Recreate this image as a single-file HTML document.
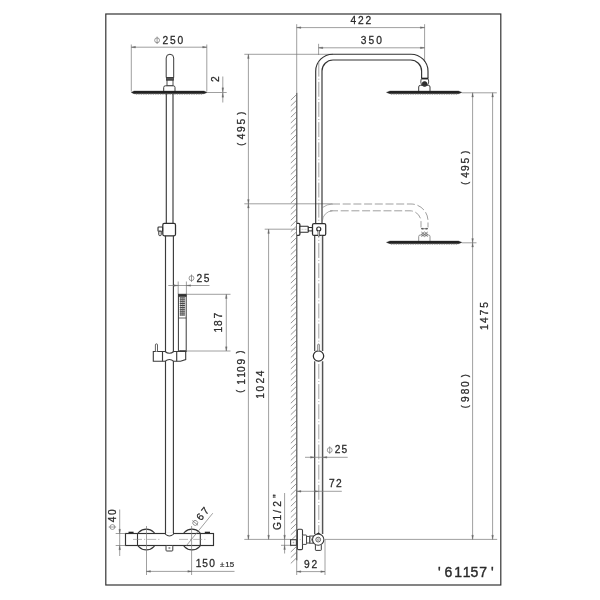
<!DOCTYPE html>
<html><head><meta charset="utf-8"><title>61157</title>
<style>
html,body{margin:0;padding:0;background:#fff;}
body{width:600px;height:600px;overflow:hidden;}
svg{display:block;}
text{font-family:"Liberation Sans",sans-serif;}
</style></head><body>
<svg width="600" height="600" viewBox="0 0 600 600">
<rect x="0" y="0" width="600" height="600" fill="#ffffff"/>
<g filter="url(#soft)">
<rect x="0" y="0" width="600" height="600" fill="#ffffff"/>
<defs><filter id="soft" x="0" y="0" width="100%" height="100%" filterUnits="objectBoundingBox"><feGaussianBlur stdDeviation="0.38"/></filter></defs>
<rect x="105.80" y="14.00" width="395.00" height="571.00" rx="0" stroke="#333" stroke-width="1.2" fill="none"/>
<line x1="131.30" y1="44.50" x2="131.30" y2="91.50" stroke="#7a7a7a" stroke-width="0.72" />
<line x1="206.80" y1="44.50" x2="206.80" y2="91.50" stroke="#7a7a7a" stroke-width="0.72" />
<line x1="131.30" y1="47.20" x2="206.80" y2="47.20" stroke="#7a7a7a" stroke-width="0.72" />
<polygon points="131.30,47.20 135.50,46.35 135.50,48.05" fill="#6a6a6a" stroke="#6a6a6a" stroke-width="0.3"/>
<polygon points="206.80,47.20 202.60,46.35 202.60,48.05" fill="#6a6a6a" stroke="#6a6a6a" stroke-width="0.3"/>
<g transform="translate(168.80,43.60) rotate(0.00)" fill="#2a2a2a" stroke="#2a2a2a" stroke-width="0.27"><title>&#8960;250</title>
<circle cx="-11.70" cy="-3.3" r="2.45" fill="none" stroke="#707070" stroke-width="0.7"/>
<line x1="-11.70" y1="-7.0" x2="-11.70" y2="0.4" stroke="#707070" stroke-width="0.7"/>
<text x="-6.29 1.22 8.71" y="0" font-size="10.2">250</text>
</g>
<line x1="206.80" y1="92.50" x2="226.70" y2="92.50" stroke="#7a7a7a" stroke-width="0.72" />
<line x1="222.80" y1="76.50" x2="222.80" y2="102.50" stroke="#7a7a7a" stroke-width="0.72" />
<polygon points="222.80,92.00 221.95,87.80 223.65,87.80" fill="#6a6a6a" stroke="#6a6a6a" stroke-width="0.3"/>
<polygon points="222.80,93.00 221.95,97.20 223.65,97.20" fill="#6a6a6a" stroke="#6a6a6a" stroke-width="0.3"/>
<g transform="translate(218.50,79.20) rotate(-90.00)" fill="#2a2a2a" stroke="#2a2a2a" stroke-width="0.27"><title>2</title>
<text x="-2.89" y="0" font-size="10.2">2</text>
</g>
<path d="M166.2,77.5 L166.2,58 A3.75,3.75 0 0 1 173.7,58 L173.7,77.5 Z" stroke="#3a3a3a" stroke-width="1.0" fill="#fff" />
<rect x="166.40" y="77.50" width="7.10" height="2.70" rx="0" stroke="#3a3a3a" stroke-width="0.8" fill="#555"/>
<rect x="167.00" y="80.20" width="6.00" height="5.60" rx="0" stroke="#3a3a3a" stroke-width="0.9" fill="#fff"/>
<path d="M163.7,91.3 L163.7,87.5 Q163.7,85.8 165.4,85.8 L173.3,85.8 Q175,85.8 175,87.5 L175,91.3" stroke="#3a3a3a" stroke-width="1.0" fill="#fff" />
<path d="M131.3,92.4 L134,91.1 L204,91.1 L207,92.4 L204,93.7 L134,93.7 Z" stroke="#222" stroke-width="0.4" fill="#222" />
<line x1="136.00" y1="94.00" x2="202.00" y2="94.00" stroke="#666" stroke-width="0.8" stroke-dasharray="1.2,1.2"/>
<line x1="166.30" y1="93.80" x2="166.30" y2="223.30" stroke="#3a3a3a" stroke-width="1.15" />
<line x1="173.00" y1="93.80" x2="173.00" y2="223.30" stroke="#3a3a3a" stroke-width="1.15" />
<rect x="162.80" y="223.40" width="12.70" height="12.40" rx="1.5" stroke="#2e2e2e" stroke-width="1.25" fill="#fff"/>
<rect x="158.00" y="227.00" width="4.60" height="4.20" rx="0.8" stroke="#2e2e2e" stroke-width="1.1" fill="#fff"/>
<rect x="158.80" y="231.20" width="2.40" height="4.40" rx="0.8" stroke="#2e2e2e" stroke-width="1.0" fill="#fff"/>
<line x1="165.50" y1="235.80" x2="165.50" y2="352.50" stroke="#3a3a3a" stroke-width="1.15" />
<line x1="173.40" y1="235.80" x2="173.40" y2="352.50" stroke="#3a3a3a" stroke-width="1.15" />
<line x1="165.50" y1="360.00" x2="165.50" y2="535.00" stroke="#3a3a3a" stroke-width="1.15" />
<line x1="173.40" y1="360.00" x2="173.40" y2="535.00" stroke="#3a3a3a" stroke-width="1.15" />
<g transform="translate(199.30,281.50) rotate(0.00)" fill="#2a2a2a" stroke="#2a2a2a" stroke-width="0.27"><title>&#8960;25</title>
<circle cx="-7.80" cy="-3.3" r="2.45" fill="none" stroke="#707070" stroke-width="0.7"/>
<line x1="-7.80" y1="-7.0" x2="-7.80" y2="0.4" stroke="#707070" stroke-width="0.7"/>
<text x="-2.89 4.52" y="0" font-size="10.2">25</text>
</g>
<line x1="168.30" y1="285.50" x2="209.50" y2="285.50" stroke="#7a7a7a" stroke-width="0.72" />
<line x1="178.20" y1="281.50" x2="178.20" y2="294.00" stroke="#7a7a7a" stroke-width="0.72" />
<line x1="186.40" y1="281.50" x2="186.40" y2="294.00" stroke="#7a7a7a" stroke-width="0.72" />
<polygon points="178.20,285.50 174.00,284.65 174.00,286.35" fill="#6a6a6a" stroke="#6a6a6a" stroke-width="0.3"/>
<polygon points="186.40,285.50 190.60,284.65 190.60,286.35" fill="#6a6a6a" stroke="#6a6a6a" stroke-width="0.3"/>
<rect x="178.40" y="294.30" width="7.80" height="57.20" rx="0" stroke="#3a3a3a" stroke-width="1.0" fill="#fff"/>
<rect x="178.40" y="294.30" width="7.80" height="2.30" rx="0" stroke="#3a3a3a" stroke-width="0.6" fill="#333"/>
<line x1="179.70" y1="297.90" x2="184.90" y2="297.90" stroke="#3a3a3a" stroke-width="1.05" />
<line x1="179.70" y1="299.80" x2="184.90" y2="299.80" stroke="#3a3a3a" stroke-width="1.05" />
<line x1="179.70" y1="301.70" x2="184.90" y2="301.70" stroke="#3a3a3a" stroke-width="1.05" />
<line x1="179.70" y1="303.60" x2="184.90" y2="303.60" stroke="#3a3a3a" stroke-width="1.05" />
<line x1="179.70" y1="305.50" x2="184.90" y2="305.50" stroke="#3a3a3a" stroke-width="1.05" />
<line x1="179.70" y1="307.40" x2="184.90" y2="307.40" stroke="#3a3a3a" stroke-width="1.05" />
<line x1="179.70" y1="309.30" x2="184.90" y2="309.30" stroke="#3a3a3a" stroke-width="1.05" />
<line x1="179.70" y1="311.20" x2="184.90" y2="311.20" stroke="#3a3a3a" stroke-width="1.05" />
<line x1="179.70" y1="313.10" x2="184.90" y2="313.10" stroke="#3a3a3a" stroke-width="1.05" />
<line x1="179.70" y1="315.00" x2="184.90" y2="315.00" stroke="#3a3a3a" stroke-width="1.05" />
<line x1="180.60" y1="297.30" x2="180.60" y2="315.60" stroke="#555" stroke-width="0.6" />
<line x1="182.30" y1="297.30" x2="182.30" y2="315.60" stroke="#555" stroke-width="0.6" />
<line x1="184.00" y1="297.30" x2="184.00" y2="315.60" stroke="#555" stroke-width="0.6" />
<line x1="178.40" y1="318.00" x2="186.20" y2="318.00" stroke="#3a3a3a" stroke-width="0.8" />
<path d="M179.3,350.5 L185.8,350.5 L185.6,352.4 L181.5,352.0 Z" stroke="#222" stroke-width="0.4" fill="#222" />
<line x1="186.40" y1="294.30" x2="230.50" y2="294.30" stroke="#7a7a7a" stroke-width="0.72" />
<line x1="186.40" y1="351.00" x2="230.50" y2="351.00" stroke="#7a7a7a" stroke-width="0.72" />
<line x1="226.30" y1="294.30" x2="226.30" y2="351.00" stroke="#7a7a7a" stroke-width="0.72" />
<polygon points="226.30,294.30 225.45,298.50 227.15,298.50" fill="#6a6a6a" stroke="#6a6a6a" stroke-width="0.3"/>
<polygon points="226.30,351.00 225.45,346.80 227.15,346.80" fill="#6a6a6a" stroke="#6a6a6a" stroke-width="0.3"/>
<g transform="translate(222.20,323.00) rotate(-90.00)" fill="#2a2a2a" stroke="#2a2a2a" stroke-width="0.27"><title>187</title>
<text x="-9.57 -2.89 4.40" y="0" font-size="10.2">187</text>
</g>
<path d="M153.3,351.5 L162.5,351.5 L165.0,351.5 Q169.4,355.0 173.8,351.5 L176.7,351.5 L185.7,351.5 L185.7,359.6 L180.5,361.3 L176.7,361.3 L173.8,361.3 Q169.4,357.6 165.0,361.3 L162.5,361.3 L153.3,361.3 Z" stroke="#3a3a3a" stroke-width="1.1" fill="#fff" />
<line x1="162.50" y1="351.50" x2="162.50" y2="361.30" stroke="#3a3a3a" stroke-width="1.15" />
<line x1="176.70" y1="351.50" x2="176.70" y2="361.30" stroke="#3a3a3a" stroke-width="1.15" />
<path d="M155.4,351.5 L155.4,344.9 A1.05,1.05 0 0 1 157.5,344.9 L157.5,351.5" stroke="#3a3a3a" stroke-width="0.8" fill="#fff" />
<circle cx="146.30" cy="539.50" r="10.40" stroke="#333" stroke-width="1.15" fill="#fff"/>
<circle cx="192.00" cy="539.50" r="10.40" stroke="#333" stroke-width="1.15" fill="#fff"/>
<rect x="125.50" y="533.50" width="88.00" height="12.00" rx="0" stroke="#333" stroke-width="1.15" fill="#fff"/>
<line x1="137.50" y1="533.50" x2="137.50" y2="545.50" stroke="#333" stroke-width="1.1" />
<line x1="200.30" y1="533.50" x2="200.30" y2="545.50" stroke="#333" stroke-width="1.1" />
<line x1="128.50" y1="532.40" x2="133.60" y2="532.40" stroke="#222" stroke-width="1.4" />
<line x1="204.80" y1="532.40" x2="210.00" y2="532.40" stroke="#222" stroke-width="1.4" />
<path d="M165.5,533.0 L165.5,534.2 Q169.4,537.8 173.4,534.2 L173.4,533.0" stroke="#3a3a3a" stroke-width="1.1" fill="#fff" />
<line x1="166.10" y1="533.50" x2="172.80" y2="533.50" stroke="#fff" stroke-width="1.6" />
<rect x="166.00" y="545.50" width="6.80" height="5.50" rx="0.8" stroke="#3a3a3a" stroke-width="1.0" fill="#fff"/>
<rect x="168.80" y="547.60" width="1.20" height="1.20" rx="0" stroke="#888" stroke-width="0.5" fill="none"/>
<line x1="133.00" y1="539.40" x2="160.00" y2="539.40" stroke="#888" stroke-width="0.6" stroke-dasharray="9,2,1.2,2"/>
<line x1="179.00" y1="539.40" x2="205.50" y2="539.40" stroke="#888" stroke-width="0.6" stroke-dasharray="9,2,1.2,2"/>
<line x1="146.50" y1="526.00" x2="146.50" y2="575.00" stroke="#7a7a7a" stroke-width="0.72" />
<line x1="191.60" y1="526.00" x2="191.60" y2="575.00" stroke="#7a7a7a" stroke-width="0.72" />
<line x1="115.70" y1="533.50" x2="125.50" y2="533.50" stroke="#7a7a7a" stroke-width="0.72" />
<line x1="115.70" y1="545.50" x2="125.50" y2="545.50" stroke="#7a7a7a" stroke-width="0.72" />
<line x1="119.70" y1="509.50" x2="119.70" y2="556.00" stroke="#7a7a7a" stroke-width="0.72" />
<polygon points="119.70,533.50 118.85,529.30 120.55,529.30" fill="#6a6a6a" stroke="#6a6a6a" stroke-width="0.3"/>
<polygon points="119.70,545.50 118.85,549.70 120.55,549.70" fill="#6a6a6a" stroke="#6a6a6a" stroke-width="0.3"/>
<g transform="translate(115.70,519.50) rotate(-90.00)" fill="#2a2a2a" stroke="#2a2a2a" stroke-width="0.27"><title>&#8960;40</title>
<circle cx="-7.50" cy="-3.3" r="2.45" fill="none" stroke="#707070" stroke-width="0.7"/>
<line x1="-7.50" y1="-7.0" x2="-7.50" y2="0.4" stroke="#707070" stroke-width="0.7"/>
<text x="-2.86 4.61" y="0" font-size="10.2">40</text>
</g>
<line x1="186.50" y1="545.50" x2="212.80" y2="513.20" stroke="#7a7a7a" stroke-width="0.72" />
<g transform="translate(202.90,518.90) rotate(-50.00)" fill="#2a2a2a" stroke="#2a2a2a" stroke-width="0.27"><title>&#8960;67</title>
<circle cx="-8.00" cy="-3.3" r="2.45" fill="none" stroke="#707070" stroke-width="0.7"/>
<line x1="-8.00" y1="-7.0" x2="-8.00" y2="0.4" stroke="#707070" stroke-width="0.7"/>
<text x="-2.93 4.70" y="0" font-size="10.2">67</text>
</g>
<line x1="146.30" y1="571.40" x2="234.50" y2="571.40" stroke="#7a7a7a" stroke-width="0.72" />
<polygon points="146.30,571.40 150.50,570.55 150.50,572.25" fill="#6a6a6a" stroke="#6a6a6a" stroke-width="0.3"/>
<polygon points="192.00,571.40 187.80,570.55 187.80,572.25" fill="#6a6a6a" stroke="#6a6a6a" stroke-width="0.3"/>
<g transform="translate(205.00,567.00) rotate(0.00)" fill="#2a2a2a" stroke="#2a2a2a" stroke-width="0.27"><title>150</title>
<text x="-9.32 -2.88 4.16" y="0" font-size="10.2">150</text>
</g>
<g transform="translate(227.00,566.80) rotate(0.00)" fill="#2a2a2a" stroke="#2a2a2a" stroke-width="0.2"><title>&#177;15</title>
<text x="-7.04 -1.74 2.64" y="0" font-size="7.9">±15</text>
</g>
<line x1="244.30" y1="54.30" x2="333.00" y2="54.30" stroke="#7a7a7a" stroke-width="0.72" />
<line x1="248.40" y1="54.30" x2="248.40" y2="539.40" stroke="#7a7a7a" stroke-width="0.72" />
<polygon points="248.40,54.30 247.55,58.50 249.25,58.50" fill="#6a6a6a" stroke="#6a6a6a" stroke-width="0.3"/>
<line x1="244.30" y1="203.80" x2="332.00" y2="203.80" stroke="#7a7a7a" stroke-width="0.72" />
<polygon points="248.40,203.80 247.55,199.60 249.25,199.60" fill="#6a6a6a" stroke="#6a6a6a" stroke-width="0.3"/>
<polygon points="248.40,203.80 247.55,208.00 249.25,208.00" fill="#6a6a6a" stroke="#6a6a6a" stroke-width="0.3"/>
<polygon points="248.40,539.40 247.55,535.20 249.25,535.20" fill="#6a6a6a" stroke="#6a6a6a" stroke-width="0.3"/>
<g transform="translate(244.80,129.00) rotate(-90.00)" fill="#2a2a2a" stroke="#2a2a2a" stroke-width="0.27"><title>(495)</title>
<text x="-16.78" y="-1.15" font-size="9">(</text>
<text x="-10.36 -2.89 4.62" y="0" font-size="10.2">495</text>
<text x="14.23" y="-1.15" font-size="9">)</text>
</g>
<g transform="translate(244.60,371.80) rotate(-90.00)" fill="#2a2a2a" stroke="#2a2a2a" stroke-width="0.27"><title>(1109)</title>
<text x="-20.98" y="-1.15" font-size="9">(</text>
<text x="-12.97 -5.97 -0.09 7.41" y="0" font-size="10.2">1109</text>
<text x="18.33" y="-1.15" font-size="9">)</text>
</g>
<line x1="264.70" y1="229.20" x2="296.70" y2="229.20" stroke="#7a7a7a" stroke-width="0.72" />
<line x1="268.60" y1="229.20" x2="268.60" y2="539.40" stroke="#7a7a7a" stroke-width="0.72" />
<polygon points="268.60,229.20 267.75,233.40 269.45,233.40" fill="#6a6a6a" stroke="#6a6a6a" stroke-width="0.3"/>
<polygon points="268.60,539.40 267.75,535.20 269.45,535.20" fill="#6a6a6a" stroke="#6a6a6a" stroke-width="0.3"/>
<g transform="translate(264.40,384.80) rotate(-90.00)" fill="#2a2a2a" stroke="#2a2a2a" stroke-width="0.27"><title>1024</title>
<text x="-13.97 -6.59 1.41 8.44" y="0" font-size="10.2">1024</text>
</g>
<line x1="244.30" y1="539.40" x2="290.50" y2="539.40" stroke="#7a7a7a" stroke-width="0.72" />
<line x1="284.60" y1="493.00" x2="284.60" y2="553.50" stroke="#7a7a7a" stroke-width="0.72" />
<line x1="281.00" y1="545.30" x2="291.00" y2="545.30" stroke="#7a7a7a" stroke-width="0.72" />
<polygon points="284.60,539.40 283.75,535.20 285.45,535.20" fill="#6a6a6a" stroke="#6a6a6a" stroke-width="0.3"/>
<polygon points="284.60,545.30 283.75,549.50 285.45,549.50" fill="#6a6a6a" stroke="#6a6a6a" stroke-width="0.3"/>
<g transform="translate(280.60,511.25) rotate(-90.00)" fill="#2a2a2a" stroke="#2a2a2a" stroke-width="0.27"><title>G1/2&quot;</title>
<text x="-18.67 -9.32 -1.44 4.61 13.2" y="0" font-size="10.2">G1/2"</text>
</g>
<line x1="296.70" y1="24.20" x2="296.70" y2="92.70" stroke="#7a7a7a" stroke-width="0.72" />
<line x1="424.60" y1="24.20" x2="424.60" y2="62.00" stroke="#7a7a7a" stroke-width="0.72" />
<line x1="296.70" y1="27.60" x2="424.60" y2="27.60" stroke="#7a7a7a" stroke-width="0.72" />
<polygon points="296.70,27.60 300.90,26.75 300.90,28.45" fill="#6a6a6a" stroke="#6a6a6a" stroke-width="0.3"/>
<polygon points="424.60,27.60 420.40,26.75 420.40,28.45" fill="#6a6a6a" stroke="#6a6a6a" stroke-width="0.3"/>
<g transform="translate(360.80,23.50) rotate(0.00)" fill="#2a2a2a" stroke="#2a2a2a" stroke-width="0.27"><title>422</title>
<text x="-10.41 -2.89 4.66" y="0" font-size="10.2">422</text>
</g>
<line x1="318.60" y1="43.80" x2="318.60" y2="55.00" stroke="#7a7a7a" stroke-width="0.72" />
<line x1="318.60" y1="47.80" x2="424.60" y2="47.80" stroke="#7a7a7a" stroke-width="0.72" />
<polygon points="318.60,47.80 322.80,46.95 322.80,48.65" fill="#6a6a6a" stroke="#6a6a6a" stroke-width="0.3"/>
<polygon points="424.60,47.80 420.40,46.95 420.40,48.65" fill="#6a6a6a" stroke="#6a6a6a" stroke-width="0.3"/>
<g transform="translate(371.40,43.50) rotate(0.00)" fill="#2a2a2a" stroke="#2a2a2a" stroke-width="0.27"><title>350</title>
<text x="-10.56 -2.88 4.81" y="0" font-size="10.2">350</text>
</g>
<line x1="296.80" y1="92.70" x2="296.80" y2="560.50" stroke="#444" stroke-width="1.1" />
<line x1="296.70" y1="560.50" x2="296.70" y2="575.00" stroke="#7a7a7a" stroke-width="0.72" />
<line x1="290.80" y1="100.10" x2="296.60" y2="94.50" stroke="#6c6c6c" stroke-width="0.7" />
<line x1="290.80" y1="105.82" x2="296.60" y2="100.22" stroke="#6c6c6c" stroke-width="0.7" />
<line x1="290.80" y1="111.54" x2="296.60" y2="105.94" stroke="#6c6c6c" stroke-width="0.7" />
<line x1="290.80" y1="117.26" x2="296.60" y2="111.66" stroke="#6c6c6c" stroke-width="0.7" />
<line x1="290.80" y1="122.98" x2="296.60" y2="117.38" stroke="#6c6c6c" stroke-width="0.7" />
<line x1="290.80" y1="128.70" x2="296.60" y2="123.10" stroke="#6c6c6c" stroke-width="0.7" />
<line x1="290.80" y1="134.42" x2="296.60" y2="128.82" stroke="#6c6c6c" stroke-width="0.7" />
<line x1="290.80" y1="140.14" x2="296.60" y2="134.54" stroke="#6c6c6c" stroke-width="0.7" />
<line x1="290.80" y1="145.86" x2="296.60" y2="140.26" stroke="#6c6c6c" stroke-width="0.7" />
<line x1="290.80" y1="151.58" x2="296.60" y2="145.98" stroke="#6c6c6c" stroke-width="0.7" />
<line x1="290.80" y1="157.30" x2="296.60" y2="151.70" stroke="#6c6c6c" stroke-width="0.7" />
<line x1="290.80" y1="163.02" x2="296.60" y2="157.42" stroke="#6c6c6c" stroke-width="0.7" />
<line x1="290.80" y1="168.74" x2="296.60" y2="163.14" stroke="#6c6c6c" stroke-width="0.7" />
<line x1="290.80" y1="174.46" x2="296.60" y2="168.86" stroke="#6c6c6c" stroke-width="0.7" />
<line x1="290.80" y1="180.18" x2="296.60" y2="174.58" stroke="#6c6c6c" stroke-width="0.7" />
<line x1="290.80" y1="185.90" x2="296.60" y2="180.30" stroke="#6c6c6c" stroke-width="0.7" />
<line x1="290.80" y1="191.62" x2="296.60" y2="186.02" stroke="#6c6c6c" stroke-width="0.7" />
<line x1="290.80" y1="197.34" x2="296.60" y2="191.74" stroke="#6c6c6c" stroke-width="0.7" />
<line x1="290.80" y1="203.06" x2="296.60" y2="197.46" stroke="#6c6c6c" stroke-width="0.7" />
<line x1="290.80" y1="208.78" x2="296.60" y2="203.18" stroke="#6c6c6c" stroke-width="0.7" />
<line x1="290.80" y1="214.50" x2="296.60" y2="208.90" stroke="#6c6c6c" stroke-width="0.7" />
<line x1="290.80" y1="220.22" x2="296.60" y2="214.62" stroke="#6c6c6c" stroke-width="0.7" />
<line x1="290.80" y1="225.94" x2="296.60" y2="220.34" stroke="#6c6c6c" stroke-width="0.7" />
<line x1="290.80" y1="231.66" x2="296.60" y2="226.06" stroke="#6c6c6c" stroke-width="0.7" />
<line x1="290.80" y1="237.38" x2="296.60" y2="231.78" stroke="#6c6c6c" stroke-width="0.7" />
<line x1="290.80" y1="243.10" x2="296.60" y2="237.50" stroke="#6c6c6c" stroke-width="0.7" />
<line x1="290.80" y1="248.82" x2="296.60" y2="243.22" stroke="#6c6c6c" stroke-width="0.7" />
<line x1="290.80" y1="254.54" x2="296.60" y2="248.94" stroke="#6c6c6c" stroke-width="0.7" />
<line x1="290.80" y1="260.26" x2="296.60" y2="254.66" stroke="#6c6c6c" stroke-width="0.7" />
<line x1="290.80" y1="265.98" x2="296.60" y2="260.38" stroke="#6c6c6c" stroke-width="0.7" />
<line x1="290.80" y1="271.70" x2="296.60" y2="266.10" stroke="#6c6c6c" stroke-width="0.7" />
<line x1="290.80" y1="277.42" x2="296.60" y2="271.82" stroke="#6c6c6c" stroke-width="0.7" />
<line x1="290.80" y1="283.14" x2="296.60" y2="277.54" stroke="#6c6c6c" stroke-width="0.7" />
<line x1="290.80" y1="288.86" x2="296.60" y2="283.26" stroke="#6c6c6c" stroke-width="0.7" />
<line x1="290.80" y1="294.58" x2="296.60" y2="288.98" stroke="#6c6c6c" stroke-width="0.7" />
<line x1="290.80" y1="300.30" x2="296.60" y2="294.70" stroke="#6c6c6c" stroke-width="0.7" />
<line x1="290.80" y1="306.02" x2="296.60" y2="300.42" stroke="#6c6c6c" stroke-width="0.7" />
<line x1="290.80" y1="311.74" x2="296.60" y2="306.14" stroke="#6c6c6c" stroke-width="0.7" />
<line x1="290.80" y1="317.46" x2="296.60" y2="311.86" stroke="#6c6c6c" stroke-width="0.7" />
<line x1="290.80" y1="323.18" x2="296.60" y2="317.58" stroke="#6c6c6c" stroke-width="0.7" />
<line x1="290.80" y1="328.90" x2="296.60" y2="323.30" stroke="#6c6c6c" stroke-width="0.7" />
<line x1="290.80" y1="334.62" x2="296.60" y2="329.02" stroke="#6c6c6c" stroke-width="0.7" />
<line x1="290.80" y1="340.34" x2="296.60" y2="334.74" stroke="#6c6c6c" stroke-width="0.7" />
<line x1="290.80" y1="346.06" x2="296.60" y2="340.46" stroke="#6c6c6c" stroke-width="0.7" />
<line x1="290.80" y1="351.78" x2="296.60" y2="346.18" stroke="#6c6c6c" stroke-width="0.7" />
<line x1="290.80" y1="357.50" x2="296.60" y2="351.90" stroke="#6c6c6c" stroke-width="0.7" />
<line x1="290.80" y1="363.22" x2="296.60" y2="357.62" stroke="#6c6c6c" stroke-width="0.7" />
<line x1="290.80" y1="368.94" x2="296.60" y2="363.34" stroke="#6c6c6c" stroke-width="0.7" />
<line x1="290.80" y1="374.66" x2="296.60" y2="369.06" stroke="#6c6c6c" stroke-width="0.7" />
<line x1="290.80" y1="380.38" x2="296.60" y2="374.78" stroke="#6c6c6c" stroke-width="0.7" />
<line x1="290.80" y1="386.10" x2="296.60" y2="380.50" stroke="#6c6c6c" stroke-width="0.7" />
<line x1="290.80" y1="391.82" x2="296.60" y2="386.22" stroke="#6c6c6c" stroke-width="0.7" />
<line x1="290.80" y1="397.54" x2="296.60" y2="391.94" stroke="#6c6c6c" stroke-width="0.7" />
<line x1="290.80" y1="403.26" x2="296.60" y2="397.66" stroke="#6c6c6c" stroke-width="0.7" />
<line x1="290.80" y1="408.98" x2="296.60" y2="403.38" stroke="#6c6c6c" stroke-width="0.7" />
<line x1="290.80" y1="414.70" x2="296.60" y2="409.10" stroke="#6c6c6c" stroke-width="0.7" />
<line x1="290.80" y1="420.42" x2="296.60" y2="414.82" stroke="#6c6c6c" stroke-width="0.7" />
<line x1="290.80" y1="426.14" x2="296.60" y2="420.54" stroke="#6c6c6c" stroke-width="0.7" />
<line x1="290.80" y1="431.86" x2="296.60" y2="426.26" stroke="#6c6c6c" stroke-width="0.7" />
<line x1="290.80" y1="437.58" x2="296.60" y2="431.98" stroke="#6c6c6c" stroke-width="0.7" />
<line x1="290.80" y1="443.30" x2="296.60" y2="437.70" stroke="#6c6c6c" stroke-width="0.7" />
<line x1="290.80" y1="449.02" x2="296.60" y2="443.42" stroke="#6c6c6c" stroke-width="0.7" />
<line x1="290.80" y1="454.74" x2="296.60" y2="449.14" stroke="#6c6c6c" stroke-width="0.7" />
<line x1="290.80" y1="460.46" x2="296.60" y2="454.86" stroke="#6c6c6c" stroke-width="0.7" />
<line x1="290.80" y1="466.18" x2="296.60" y2="460.58" stroke="#6c6c6c" stroke-width="0.7" />
<line x1="290.80" y1="471.90" x2="296.60" y2="466.30" stroke="#6c6c6c" stroke-width="0.7" />
<line x1="290.80" y1="477.62" x2="296.60" y2="472.02" stroke="#6c6c6c" stroke-width="0.7" />
<line x1="290.80" y1="483.34" x2="296.60" y2="477.74" stroke="#6c6c6c" stroke-width="0.7" />
<line x1="290.80" y1="489.06" x2="296.60" y2="483.46" stroke="#6c6c6c" stroke-width="0.7" />
<line x1="290.80" y1="494.78" x2="296.60" y2="489.18" stroke="#6c6c6c" stroke-width="0.7" />
<line x1="290.80" y1="500.50" x2="296.60" y2="494.90" stroke="#6c6c6c" stroke-width="0.7" />
<line x1="290.80" y1="506.22" x2="296.60" y2="500.62" stroke="#6c6c6c" stroke-width="0.7" />
<line x1="290.80" y1="511.94" x2="296.60" y2="506.34" stroke="#6c6c6c" stroke-width="0.7" />
<line x1="290.80" y1="517.66" x2="296.60" y2="512.06" stroke="#6c6c6c" stroke-width="0.7" />
<line x1="290.80" y1="523.38" x2="296.60" y2="517.78" stroke="#6c6c6c" stroke-width="0.7" />
<line x1="290.80" y1="529.10" x2="296.60" y2="523.50" stroke="#6c6c6c" stroke-width="0.7" />
<line x1="290.80" y1="534.82" x2="296.60" y2="529.22" stroke="#6c6c6c" stroke-width="0.7" />
<line x1="290.80" y1="540.54" x2="296.60" y2="534.94" stroke="#6c6c6c" stroke-width="0.7" />
<line x1="290.80" y1="546.26" x2="296.60" y2="540.66" stroke="#6c6c6c" stroke-width="0.7" />
<line x1="290.80" y1="551.98" x2="296.60" y2="546.38" stroke="#6c6c6c" stroke-width="0.7" />
<line x1="290.80" y1="557.70" x2="296.60" y2="552.10" stroke="#6c6c6c" stroke-width="0.7" />
<line x1="290.80" y1="563.42" x2="296.60" y2="557.82" stroke="#6c6c6c" stroke-width="0.7" />
<path d="M315.7,223.4 L315.7,71.2 A17,17 0 0 1 332.7,54.2 L411.0,54.2 A17,17 0 0 1 428.0,71.2 L428.0,78.0" stroke="#333" stroke-width="1.15" fill="none" />
<path d="M322.0,223.4 L322.0,71.0 A11,11 0 0 1 333.0,60.0 L410.6,60.0 A11,11 0 0 1 421.6,71.0 L421.6,78.0" stroke="#333" stroke-width="1.15" fill="none" />
<line x1="318.80" y1="61.70" x2="318.80" y2="533.00" stroke="#8a8a8a" stroke-width="0.8" stroke-dasharray="14.9,2.1,1,2.15"/>
<rect x="421.30" y="77.90" width="6.90" height="1.30" rx="0" stroke="#222" stroke-width="0.3" fill="#222"/>
<path d="M421.1,79.2 L420.8,82.0 Q421.0,84.2 422.3,85.3 M428.4,79.2 L428.7,82.0 Q428.5,84.2 427.2,85.3" stroke="#3a3a3a" stroke-width="0.9" fill="none" />
<circle cx="424.60" cy="84.00" r="2.50" stroke="#222" stroke-width="0.6" fill="#2e2e2e"/>
<path d="M418.7,91.4 L418.7,87.0 Q418.7,85.3 420.4,85.3 L428.3,85.3 Q430,85.3 430,87.0 L430,91.4" stroke="#3a3a3a" stroke-width="1.0" fill="none" />
<path d="M386.5,92.4 L390,91.1 L458.5,91.1 L461.8,92.4 L458.5,93.7 L390,93.7 Z" stroke="#222" stroke-width="0.4" fill="#222" />
<line x1="391.00" y1="94.00" x2="457.00" y2="94.00" stroke="#666" stroke-width="0.8" stroke-dasharray="1.2,1.2"/>
<path d="M332.0,204.0 L411.0,204.0 A17,17 0 0 1 428.0,221.0 L428.0,227.5" stroke="#777" stroke-width="0.7" fill="none" stroke-dasharray="8,2.7"/>
<path d="M330.0,210.8 L410.0,210.8 A11,11 0 0 1 421.0,221.8 L421.0,227.5" stroke="#777" stroke-width="0.7" fill="none" stroke-dasharray="8,2.7"/>
<path d="M322.4,207.6 A17,17 0 0 1 332.7,204.0" stroke="#777" stroke-width="0.6" fill="none" />
<path d="M322.4,221.0 A10.5,10.5 0 0 1 332.5,210.8" stroke="#777" stroke-width="0.6" fill="none" />
<line x1="421.00" y1="228.70" x2="428.00" y2="228.70" stroke="#555" stroke-width="0.7" />
<polygon points="421.00,228.70 423.20,228.00 423.20,229.40" fill="#555" stroke="#555" stroke-width="0.3"/>
<polygon points="428.00,228.70 425.80,228.00 425.80,229.40" fill="#555" stroke="#555" stroke-width="0.3"/>
<path d="M421.3,232 L427.8,236.6 M427.8,232 L421.3,236.6 M421.3,234.3 L424.5,236.6 L427.8,234.3 M421.3,234.3 L424.5,232 L427.8,234.3" stroke="#555" stroke-width="0.65" fill="none" />
<path d="M418.7,241.4 L418.7,236.5 Q418.7,235 420.2,235 L428.5,235 Q430,235 430,236.5 L430,241.4" stroke="#777" stroke-width="0.8" fill="none" />
<path d="M386.5,242.4 L390,241.1 L458.5,241.1 L461.8,242.4 L458.5,243.7 L390,243.7 Z" stroke="#222" stroke-width="0.4" fill="#222" />
<line x1="391.00" y1="244.00" x2="457.00" y2="244.00" stroke="#666" stroke-width="0.8" stroke-dasharray="1.2,1.2"/>
<path d="M297.0,223.4 L298.6,223.4 Q299.9,223.4 299.9,224.8 L299.9,234.0 Q299.9,235.4 298.6,235.4 L297.0,235.4" stroke="#2e2e2e" stroke-width="1.3" fill="#fff" />
<rect x="299.90" y="226.30" width="8.40" height="6.00" rx="0.6" stroke="#2e2e2e" stroke-width="1.1" fill="#fff"/>
<rect x="308.30" y="227.50" width="4.10" height="3.40" rx="0" stroke="#2e2e2e" stroke-width="1.0" fill="#fff"/>
<line x1="301.50" y1="229.30" x2="307.00" y2="229.30" stroke="#999" stroke-width="0.5" stroke-dasharray="2,1"/>
<rect x="312.50" y="223.50" width="13.20" height="11.90" rx="1.5" stroke="#2e2e2e" stroke-width="1.25" fill="#fff"/>
<circle cx="318.75" cy="229.00" r="2.00" stroke="#2a2a2a" stroke-width="1.2" fill="none"/>
<path d="M318.0,231 L318.0,236.0 Q318.75,236.8 319.5,236.0 L319.5,231" stroke="#3a3a3a" stroke-width="0.7" fill="#fff" />
<line x1="314.70" y1="235.40" x2="314.70" y2="350.90" stroke="#3a3a3a" stroke-width="1.15" />
<line x1="322.70" y1="235.40" x2="322.70" y2="350.90" stroke="#3a3a3a" stroke-width="1.15" />
<line x1="321.30" y1="235.40" x2="321.30" y2="350.90" stroke="#b5b5b5" stroke-width="0.5" />
<line x1="314.70" y1="361.30" x2="314.70" y2="533.90" stroke="#3a3a3a" stroke-width="1.15" />
<line x1="322.70" y1="361.30" x2="322.70" y2="533.90" stroke="#3a3a3a" stroke-width="1.15" />
<line x1="321.30" y1="361.30" x2="321.30" y2="533.90" stroke="#b5b5b5" stroke-width="0.5" />
<circle cx="318.50" cy="356.00" r="5.20" stroke="#2e2e2e" stroke-width="1.25" fill="#fff"/>
<path d="M317.7,350.8 L317.7,344.6 Q318.5,343.8 319.3,344.6 L319.3,350.8" stroke="#555" stroke-width="0.7" fill="#fff" />
<line x1="305.00" y1="457.30" x2="347.70" y2="457.30" stroke="#7a7a7a" stroke-width="0.72" />
<polygon points="314.70,457.30 310.50,456.45 310.50,458.15" fill="#6a6a6a" stroke="#6a6a6a" stroke-width="0.3"/>
<polygon points="322.70,457.30 326.90,456.45 326.90,458.15" fill="#6a6a6a" stroke="#6a6a6a" stroke-width="0.3"/>
<g transform="translate(337.60,453.40) rotate(0.00)" fill="#2a2a2a" stroke="#2a2a2a" stroke-width="0.27"><title>&#8960;25</title>
<circle cx="-7.90" cy="-3.3" r="2.45" fill="none" stroke="#707070" stroke-width="0.7"/>
<line x1="-7.90" y1="-7.0" x2="-7.90" y2="0.4" stroke="#707070" stroke-width="0.7"/>
<text x="-2.89 3.82" y="0" font-size="10.2">25</text>
</g>
<line x1="296.80" y1="491.30" x2="341.80" y2="491.30" stroke="#7a7a7a" stroke-width="0.72" />
<polygon points="296.80,491.30 301.00,490.45 301.00,492.15" fill="#6a6a6a" stroke="#6a6a6a" stroke-width="0.3"/>
<polygon points="318.60,491.30 314.40,490.45 314.40,492.15" fill="#6a6a6a" stroke="#6a6a6a" stroke-width="0.3"/>
<g transform="translate(335.30,487.30) rotate(0.00)" fill="#2a2a2a" stroke="#2a2a2a" stroke-width="0.27"><title>72</title>
<text x="-6.40 0.61" y="0" font-size="10.2">72</text>
</g>
<rect x="290.60" y="539.70" width="5.80" height="5.60" rx="0" stroke="#3a3a3a" stroke-width="1.1" fill="#fff"/>
<rect x="293.00" y="542.00" width="1.00" height="1.00" rx="0" stroke="#999" stroke-width="0.4" fill="none"/>
<rect x="297.40" y="529.30" width="5.10" height="20.30" rx="1.2" stroke="#3a3a3a" stroke-width="1.1" fill="#fff"/>
<rect x="302.50" y="535.00" width="4.10" height="9.40" rx="0.6" stroke="#3a3a3a" stroke-width="0.9" fill="#fff"/>
<rect x="306.60" y="536.40" width="3.20" height="6.60" rx="0" stroke="#3a3a3a" stroke-width="0.9" fill="#fff"/>
<rect x="309.80" y="536.00" width="3.50" height="7.20" rx="0" stroke="#3a3a3a" stroke-width="0.9" fill="#fff"/>
<path d="M309.8,536 L313.3,543.2 M313.3,536 L309.8,543.2" stroke="#666" stroke-width="0.5" fill="none" />
<rect x="315.40" y="544.50" width="5.90" height="5.90" rx="0.6" stroke="#3a3a3a" stroke-width="1.0" fill="#fff"/>
<circle cx="318.20" cy="539.60" r="5.70" stroke="#3a3a3a" stroke-width="1.1" fill="#fff"/>
<circle cx="318.20" cy="539.60" r="2.40" stroke="#3a3a3a" stroke-width="0.8" fill="none"/>
<circle cx="318.20" cy="539.60" r="0.90" stroke="#666" stroke-width="0.6" fill="none"/>
<path d="M317.0,534.0 L318.4,532.6 L319.8,534.0 Z" stroke="#222" stroke-width="0.4" fill="#222" />
<line x1="299.50" y1="539.60" x2="301.00" y2="539.60" stroke="#999" stroke-width="0.5" />
<line x1="325.00" y1="539.40" x2="497.20" y2="539.40" stroke="#7a7a7a" stroke-width="0.72" />
<line x1="325.00" y1="539.40" x2="325.00" y2="575.00" stroke="#7a7a7a" stroke-width="0.72" />
<line x1="296.70" y1="571.60" x2="325.00" y2="571.60" stroke="#7a7a7a" stroke-width="0.72" />
<polygon points="296.70,571.60 300.90,570.75 300.90,572.45" fill="#6a6a6a" stroke="#6a6a6a" stroke-width="0.3"/>
<polygon points="325.00,571.60 320.80,570.75 320.80,572.45" fill="#6a6a6a" stroke="#6a6a6a" stroke-width="0.3"/>
<g transform="translate(310.60,567.50) rotate(0.00)" fill="#2a2a2a" stroke="#2a2a2a" stroke-width="0.27"><title>92</title>
<text x="-6.64 0.86" y="0" font-size="10.2">92</text>
</g>
<line x1="461.80" y1="92.80" x2="496.80" y2="92.80" stroke="#7a7a7a" stroke-width="0.72" />
<line x1="472.60" y1="92.80" x2="472.60" y2="539.40" stroke="#7a7a7a" stroke-width="0.72" />
<line x1="492.60" y1="92.80" x2="492.60" y2="539.40" stroke="#7a7a7a" stroke-width="0.72" />
<polygon points="472.60,92.80 471.75,97.00 473.45,97.00" fill="#6a6a6a" stroke="#6a6a6a" stroke-width="0.3"/>
<polygon points="492.60,92.80 491.75,97.00 493.45,97.00" fill="#6a6a6a" stroke="#6a6a6a" stroke-width="0.3"/>
<polygon points="472.60,539.40 471.75,535.20 473.45,535.20" fill="#6a6a6a" stroke="#6a6a6a" stroke-width="0.3"/>
<polygon points="492.60,539.40 491.75,535.20 493.45,535.20" fill="#6a6a6a" stroke="#6a6a6a" stroke-width="0.3"/>
<line x1="461.80" y1="242.80" x2="476.50" y2="242.80" stroke="#7a7a7a" stroke-width="0.72" />
<polygon points="472.60,242.80 471.75,238.60 473.45,238.60" fill="#6a6a6a" stroke="#6a6a6a" stroke-width="0.3"/>
<polygon points="472.60,242.80 471.75,247.00 473.45,247.00" fill="#6a6a6a" stroke="#6a6a6a" stroke-width="0.3"/>
<g transform="translate(468.80,168.00) rotate(-90.00)" fill="#2a2a2a" stroke="#2a2a2a" stroke-width="0.27"><title>(495)</title>
<text x="-16.78" y="-1.15" font-size="9">(</text>
<text x="-9.86 -2.89 4.62" y="0" font-size="10.2">495</text>
<text x="14.23" y="-1.15" font-size="9">)</text>
</g>
<g transform="translate(468.80,391.30) rotate(-90.00)" fill="#2a2a2a" stroke="#2a2a2a" stroke-width="0.27"><title>(980)</title>
<text x="-16.98" y="-1.15" font-size="9">(</text>
<text x="-10.59 -2.89 4.41" y="0" font-size="10.2">980</text>
<text x="14.03" y="-1.15" font-size="9">)</text>
</g>
<g transform="translate(488.30,316.30) rotate(-90.00)" fill="#2a2a2a" stroke="#2a2a2a" stroke-width="0.27"><title>1475</title>
<text x="-13.74 -6.68 0.93 8.59" y="0" font-size="10.2">1475</text>
</g>
<g transform="translate(465.90,577.00) rotate(0.00)" fill="#2a2a2a" stroke="#2a2a2a" stroke-width="0.4"><title>'61157'</title>
<text x="-27.87 -21.32 -11.71 -3.11 4.64 13.32 25.23" y="0" font-size="14">'61157'</text>
</g>
</g>
</svg>
</body></html>
